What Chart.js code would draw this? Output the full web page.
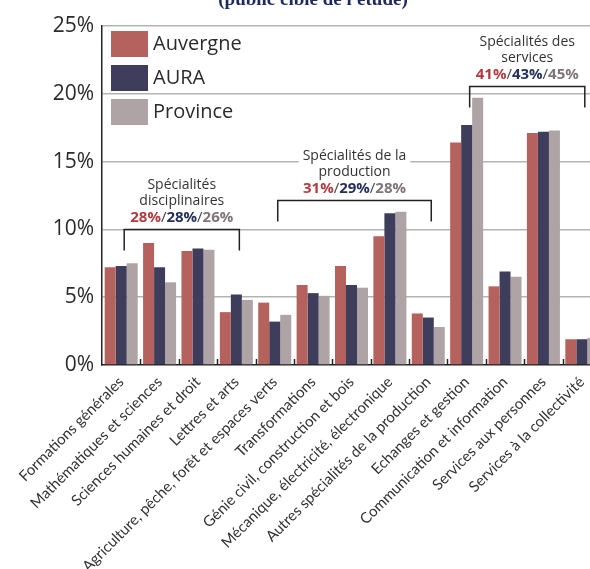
<!DOCTYPE html>
<html lang="fr">
<head>
<meta charset="utf-8">
<script src="https://cdn.jsdelivr.net/npm/chart.js@4"></script>
<style>
  html, body { margin: 0; padding: 0; background: #fff; overflow: hidden; }
  #wrap { width: 602px; height: 569px; }
</style>
</head>
<body>
<div id="wrap"><canvas id="specChart" width="602" height="569"></canvas></div>
<script>
// Répartition des formations par groupe de spécialités (%)
let specialites = [
  "Formations générales",
  "Mathématiques et sciences",
  "Sciences humaines et droit",
  "Lettres et arts",
  "Agriculture, pêche, forêt et espaces verts",
  "Transformations",
  "Génie civil, construction et bois",
  "Mécanique, électricité, électronique",
  "Autres spécialités de la production",
  "Echanges et gestion",
  "Communication et information",
  "Services aux personnes",
  "Services à la collectivité"
];
let auvergne = [7.2, 9.0, 8.4, 3.9, 4.6, 5.9, 7.3, 9.5, 3.8, 16.4, 5.8, 17.1, 1.9];
let aura     = [7.3, 7.2, 8.6, 5.2, 3.2, 5.3, 5.9, 11.2, 3.5, 17.7, 6.9, 17.2, 1.9];
let province = [7.5, 6.1, 8.5, 4.8, 3.7, 5.1, 5.7, 11.3, 2.8, 19.7, 6.5, 17.3, 2.0];
let ticksY = [0, 5, 10, 15, 20, 25];

// regroupements : titre, parts Auvergne/AURA/Province, premier et dernier index, hauteur de l'accolade
let groupes = [
  ["Spécialités", "disciplinaires"],
  ["Spécialités de la", "production"],
  ["Spécialités des", "services"]
];
let groupesParts = [[28, 28, 26], [31, 29, 28], [41, 43, 45]];
let groupesDebut = [0, 4, 9];
let groupesFin = [3, 8, 12];
let groupesNiveau = [10, 12.2, 20.6];

let couleurs = ["#b5625e", "#3e3e5c", "#aea3a5"];
let couleursParts = ["#b23b40", "#25305c", "#7f7478"];
let police = "'Open Sans', 'Noto Sans', sans-serif";

let habillage = {
  id: "habillage",
  afterDraw(chart) {
    let c = chart.ctx;
    let x = chart.scales.x, y = chart.scales.y;
    let area = chart.chartArea;
    c.save();

    // titre (tronqué en haut)
    c.fillStyle = "#1f2a5c";
    c.font = "bold 19px 'Liberation Serif', serif";
    c.textAlign = "center";
    c.textBaseline = "alphabetic";
    c.fillText("(public cible de l'étude)", 313, 5);

    // petites graduations entre les catégories
    c.strokeStyle = "#222";
    c.lineWidth = 1.5;
    let demi = (x.getPixelForValue(1) - x.getPixelForValue(0)) / 2;
    for (let i = 1; i <= specialites.length; i++) {
      let px = Math.round(x.getPixelForValue(i) - demi) + 0.5;
      c.beginPath();
      c.moveTo(px, area.bottom - 6);
      c.lineTo(px, area.bottom);
      c.stroke();
    }

    // légende
    let noms = chart.data.datasets.map(d => d.label);
    c.font = "20px " + police;
    c.textAlign = "left";
    c.textBaseline = "middle";
    noms.forEach((nom, i) => {
      let top = 31 + i * 34;
      c.fillStyle = couleurs[i];
      c.fillRect(111, top, 37, 26);
      c.fillStyle = "#2b2b2b";
      c.fillText(nom, 153, top + 13);
    });

    // accolades et intitulés des regroupements
    groupes.forEach((lignes, g) => {
      let x0 = x.getPixelForValue(groupesDebut[g]) + 3;
      let x1 = x.getPixelForValue(groupesFin[g]) + 3;
      let yTop = Math.round(y.getPixelForValue(groupesNiveau[g])) + 0.5;
      let cx = (x0 + x1) / 2;

      c.strokeStyle = "#222";
      c.lineWidth = 1.5;
      c.beginPath();
      c.moveTo(x0, yTop + 21);
      c.lineTo(x0, yTop);
      c.lineTo(x1, yTop);
      c.lineTo(x1, yTop + 21);
      c.stroke();

      let l3 = yTop - 12;
      let ys = [l3 - 32, l3 - 16, l3];

      // fond blanc derrière le texte
      c.font = "14px " + police;
      let w = Math.max(...lignes.map(t => c.measureText(t).width)) + 8;
      c.fillStyle = "#fff";
      c.fillRect(cx - w / 2, ys[0] - 9, w, 48);

      c.fillStyle = "#333";
      c.textAlign = "center";
      c.textBaseline = "middle";
      lignes.forEach((t, k) => c.fillText(t, cx, ys[k]));

      // ligne des parts : 28%/28%/26%
      let morceaux = [];
      groupesParts[g].forEach((p, k) => {
        if (k > 0) morceaux.push(["/", "15px " + police, "#444"]);
        morceaux.push([p + "%", "bold 15px " + police, couleursParts[k]]);
      });
      let total = 0;
      morceaux.forEach(m => { c.font = m[1]; total += c.measureText(m[0]).width; });
      let px = cx - total / 2;
      c.textAlign = "left";
      morceaux.forEach(m => {
        c.font = m[1];
        c.fillStyle = m[2];
        c.fillText(m[0], px, ys[2]);
        px += c.measureText(m[0]).width;
      });
    });
    c.restore();
  }
};

new Chart(document.getElementById("specChart").getContext("2d"), {
  type: "bar",
  data: {
    labels: specialites,
    datasets: [
      { label: "Auvergne", data: auvergne, backgroundColor: couleurs[0] },
      { label: "AURA", data: aura, backgroundColor: couleurs[1] },
      { label: "Province", data: province, backgroundColor: couleurs[2] }
    ]
  },
  options: {
    responsive: false,
    animation: false,
    layout: { padding: { top: 26, left: 0, right: 1, bottom: 0 } },
    datasets: { bar: { categoryPercentage: 0.86, barPercentage: 1.0 } },
    plugins: { legend: { display: false }, tooltip: { enabled: false } },
    scales: {
      x: {
        grid: { display: false },
        border: { display: true, color: "#222", width: 1.5 },
        ticks: {
          color: "#333",
          font: { size: 15, family: "Lato, 'Open Sans', sans-serif" },
          minRotation: 45,
          maxRotation: 45,
          autoSkip: false,
          padding: 0
        },
        afterFit(scale) { scale.height = 204; }
      },
      y: {
        min: 0,
        max: 25,
        afterBuildTicks(scale) { scale.ticks = ticksY.map(v => ({ value: v })); },
        grid: {
          color: ctx => ctx.tick && ctx.tick.value === 0 ? "rgba(0,0,0,0)" : "#b3b3b3",
          lineWidth: 1.5,
          drawTicks: false
        },
        border: { display: true, color: "#222", width: 1.5 },
        ticks: {
          color: "#2b2b2b",
          font: { size: 21, family: police },
          padding: 8,
          callback: v => v + "%"
        },
        afterFit(scale) { scale.width = 102; }
      }
    }
  },
  plugins: [habillage]
});
</script>
</body>
</html>
